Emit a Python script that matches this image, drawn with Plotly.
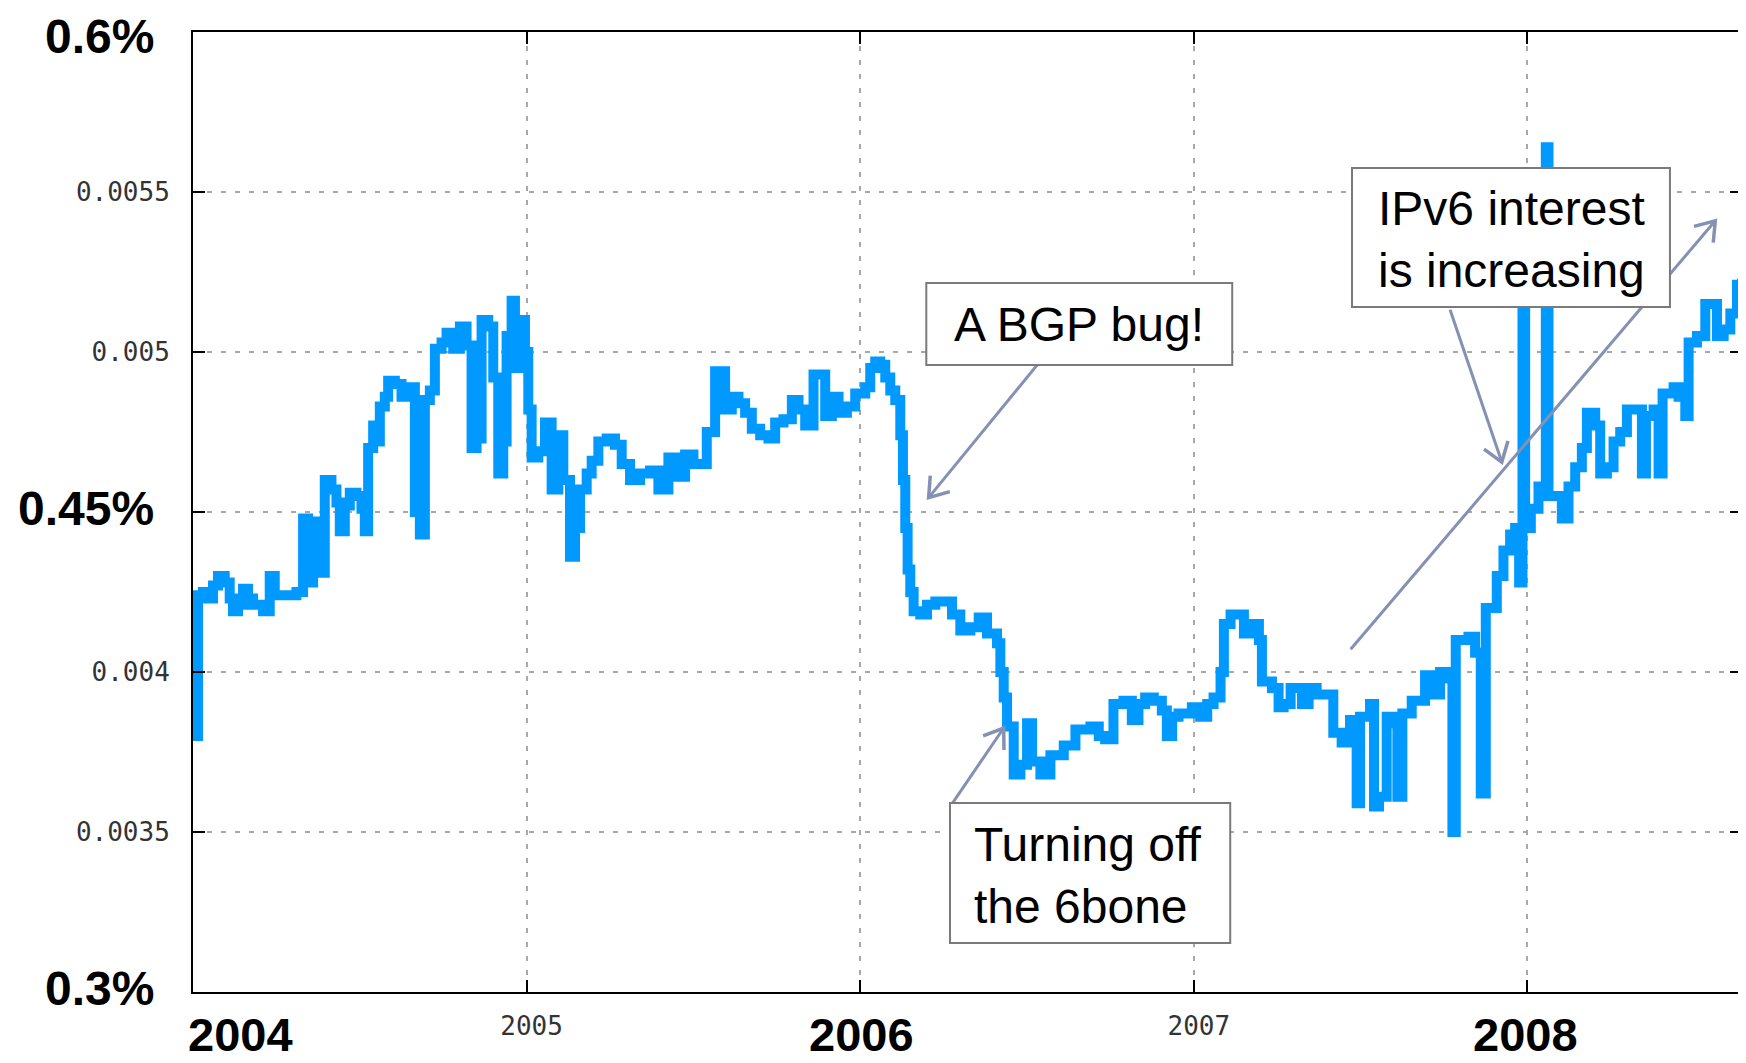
import math
import plotly.graph_objects as go

# ---------------- data ----------------
years = [
    2004.000, 2004.005, 2004.015, 2004.030, 2004.045, 2004.060, 2004.075, 2004.095, 2004.110, 2004.120,
    2004.135, 2004.150, 2004.165, 2004.180, 2004.195, 2004.210, 2004.230, 2004.245, 2004.265, 2004.290,
    2004.310, 2004.330, 2004.345, 2004.360, 2004.375, 2004.385, 2004.395, 2004.415, 2004.430, 2004.440,
    2004.455, 2004.470, 2004.490, 2004.505, 2004.515, 2004.525, 2004.540, 2004.550, 2004.560, 2004.575,
    2004.585, 2004.605, 2004.625, 2004.640, 2004.655, 2004.665, 2004.680, 2004.695, 2004.710, 2004.725,
    2004.745, 2004.760, 2004.780, 2004.800, 2004.820, 2004.835, 2004.850, 2004.865, 2004.885, 2004.900,
    2004.915, 2004.930, 2004.940, 2004.955, 2004.965, 2004.975, 2004.995, 2005.005, 2005.015, 2005.035,
    2005.055, 2005.075, 2005.095, 2005.110, 2005.130, 2005.145, 2005.160, 2005.180, 2005.195, 2005.215,
    2005.240, 2005.265, 2005.285, 2005.310, 2005.340, 2005.370, 2005.395, 2005.425, 2005.450, 2005.475,
    2005.500, 2005.520, 2005.540, 2005.565, 2005.585, 2005.595, 2005.615, 2005.635, 2005.655, 2005.675,
    2005.700, 2005.725, 2005.745, 2005.770, 2005.795, 2005.815, 2005.835, 2005.860, 2005.880, 2005.895,
    2005.915, 2005.935, 2005.960, 2005.985, 2006.015, 2006.030, 2006.045, 2006.060, 2006.075, 2006.090,
    2006.105, 2006.120, 2006.128, 2006.135, 2006.142, 2006.150, 2006.160, 2006.180, 2006.200, 2006.225,
    2006.250, 2006.275, 2006.300, 2006.330, 2006.355, 2006.380, 2006.410, 2006.420, 2006.430, 2006.440,
    2006.460, 2006.480, 2006.500, 2006.515, 2006.540, 2006.570, 2006.610, 2006.645, 2006.690, 2006.715,
    2006.734, 2006.759, 2006.789, 2006.814, 2006.834, 2006.854, 2006.880, 2006.904, 2006.919, 2006.935,
    2006.954, 2006.994, 2007.019, 2007.040, 2007.059, 2007.080, 2007.090, 2007.110, 2007.130, 2007.150,
    2007.179, 2007.195, 2007.204, 2007.234, 2007.254, 2007.269, 2007.290, 2007.324, 2007.344, 2007.368,
    2007.393, 2007.418, 2007.443, 2007.468, 2007.488, 2007.498, 2007.528, 2007.540, 2007.555, 2007.578,
    2007.598, 2007.610, 2007.625, 2007.653, 2007.678, 2007.693, 2007.713, 2007.738, 2007.758, 2007.775,
    2007.785, 2007.823, 2007.843, 2007.860, 2007.875, 2007.893, 2007.908, 2007.928, 2007.948, 2007.963,
    2007.975, 2007.985, 2007.993, 2008.010, 2008.033, 2008.055, 2008.063, 2008.083, 2008.103, 2008.123,
    2008.143, 2008.163, 2008.178, 2008.203, 2008.218, 2008.238, 2008.258, 2008.278, 2008.298, 2008.318,
    2008.343, 2008.355, 2008.378, 2008.393, 2008.405, 2008.438, 2008.453, 2008.473, 2008.483, 2008.508,
    2008.533, 2008.553, 2008.568, 2008.588, 2008.608, 2008.628, 2008.643,
]
share = [
    0.00386, 0.00380, 0.00424, 0.00425, 0.00423, 0.00427, 0.00430, 0.00428, 0.00423, 0.00419,
    0.00421, 0.00426, 0.00423, 0.00421, 0.00421, 0.00419, 0.00430, 0.00424, 0.00424, 0.00424,
    0.00425, 0.00448, 0.00428, 0.00431, 0.00447, 0.00431, 0.00460, 0.00457, 0.00453, 0.00444,
    0.00452, 0.00456, 0.00455, 0.00451, 0.00444, 0.00470, 0.00477, 0.00472, 0.00483, 0.00486,
    0.00491, 0.00490, 0.00486, 0.00489, 0.00489, 0.00450, 0.00443, 0.00485, 0.00488, 0.00501,
    0.00503, 0.00506, 0.00501, 0.00508, 0.00502, 0.00470, 0.00473, 0.00510, 0.00508, 0.00492,
    0.00462, 0.00472, 0.00505, 0.00516, 0.00495, 0.00510, 0.00500, 0.00482, 0.00467, 0.00469,
    0.00478, 0.00457, 0.00474, 0.00460, 0.00436, 0.00445, 0.00457, 0.00462, 0.00466, 0.00472,
    0.00473, 0.00471, 0.00465, 0.00460, 0.00462, 0.00463, 0.00457, 0.00467, 0.00461, 0.00468,
    0.00465, 0.00465, 0.00475, 0.00494, 0.00494, 0.00482, 0.00486, 0.00484, 0.00481, 0.00476,
    0.00474, 0.00473, 0.00478, 0.00479, 0.00485, 0.00482, 0.00477, 0.00493, 0.00493, 0.00480,
    0.00486, 0.00481, 0.00483, 0.00487, 0.00489, 0.00495, 0.00497, 0.00496, 0.00492, 0.00488,
    0.00485, 0.00474, 0.00460, 0.00445, 0.00432, 0.00425, 0.00419, 0.00418, 0.00421, 0.00422,
    0.00422, 0.00418, 0.00413, 0.00414, 0.00417, 0.00412, 0.00409, 0.00400, 0.00392, 0.00383,
    0.00368, 0.00371, 0.00384, 0.00372, 0.00368, 0.00374, 0.00377, 0.00382, 0.00383, 0.00380,
    0.00379, 0.00390, 0.00391, 0.00385, 0.00390, 0.00392, 0.00391, 0.00388, 0.00380, 0.00386,
    0.00387, 0.00389, 0.00386, 0.00390, 0.00392, 0.00400, 0.00415, 0.00418, 0.00418, 0.00412,
    0.00415, 0.00410, 0.00397, 0.00395, 0.00389, 0.00390, 0.00395, 0.00390, 0.00395, 0.00393,
    0.00393, 0.00381, 0.00378, 0.00385, 0.00359, 0.00386, 0.00390, 0.00358, 0.00361, 0.00386,
    0.00384, 0.00361, 0.00387, 0.00391, 0.00391, 0.00399, 0.00393, 0.00400, 0.00398, 0.00350,
    0.00410, 0.00411, 0.00406, 0.00362, 0.00420, 0.00420, 0.00430, 0.00438, 0.00443, 0.00445,
    0.00428, 0.00540, 0.00445, 0.00451, 0.00458, 0.00564, 0.00455, 0.00455, 0.00448, 0.00458,
    0.00464, 0.00470, 0.00481, 0.00477, 0.00462, 0.00464, 0.00472, 0.00475, 0.00482, 0.00482,
    0.00462, 0.00480, 0.00482, 0.00462, 0.00487, 0.00489, 0.00486, 0.00480, 0.00503, 0.00505,
    0.00515, 0.00515, 0.00505, 0.00507, 0.00512, 0.00521, 0.00523,
]

y_tick_vals = [0.003, 0.0035, 0.004, 0.0045, 0.005, 0.0055, 0.006]
y_tick_text = ["", "0.0035", "0.004", "", "0.005", "0.0055", ""]
x_tick_vals = [2005, 2006, 2007, 2008]
x_tick_text = ["2005", "", "2007", ""]

big_y_text = ["0.6%", "0.45%", "0.3%"]
big_y_at = [0.006, 0.0045, 0.003]
big_x_text = ["2004", "2006", "2008"]
big_x_at = [2004, 2006, 2008]

# ---------------- geometry ----------------
# the page body adds an 8px margin, so the figure is a little smaller than the window
W, H = 1738, 1055
ML, MR, MT, MB = 185, 4, 24, 71
X0, X1 = 2004.0, 2008.643
Y0, Y1 = 0.003, 0.006
PW, PH = W - ML - MR, H - MT - MB
SX, SY = PW / (X1 - X0), PH / (Y1 - Y0)


def to_px(x, y):
    return ML + (x - X0) * SX, MT + (Y1 - y) * SY


def to_data(px, py):
    return X0 + (px - ML) / SX, Y1 - (py - MT) / SY


FONT = "Liberation Sans, Arial, Helvetica, sans-serif"
MONO = "DejaVu Sans Mono, Liberation Mono, monospace"
ARROW = "#8590b3"

fig = go.Figure()
fig.add_trace(go.Scatter(
    x=years, y=share, mode="lines",
    line=dict(color="#0099ff", width=10, shape="hv"),
    hoverinfo="skip", showlegend=False,
))

grid = dict(showgrid=True, gridcolor="#a8a8a8", gridwidth=2, griddash="5px,9px")
axis_common = dict(showline=True, linecolor="black", linewidth=2, mirror="ticks",
                   ticks="inside", ticklen=12, tickwidth=2, tickcolor="black",
                   zeroline=False, automargin=False, **grid)

fig.update_xaxes(range=[X0, X1], tickmode="array", tickvals=x_tick_vals, ticktext=x_tick_text,
                 tickfont=dict(family=MONO, size=26, color="#333333"),
                 ticklabelstandoff=10, ticklabelshift=5, **axis_common)
fig.update_yaxes(range=[Y0, Y1], tickmode="array", tickvals=y_tick_vals, ticktext=y_tick_text,
                 tickfont=dict(family=MONO, size=26, color="#333333"),
                 ticklabelstandoff=16, **axis_common)

shapes = []
annotations = []

# arrows: (tail_year, tail_value, head_year, head_value)
arrows = [
    (2006.530, 0.004959, 2006.205, 0.004545),
    (2006.275, 0.003588, 2006.430, 0.003825),
    (2007.768, 0.005132, 2007.923, 0.004656),
    (2007.470, 0.004071, 2008.563, 0.005410),
]
for tx, ty, hx, hy in arrows:
    shapes.append(dict(type="line", xref="x", yref="y", x0=tx, y0=ty, x1=hx, y1=hy,
                       line=dict(color=ARROW, width=3), layer="above"))
    tpx, tpy = to_px(tx, ty)
    hpx, hpy = to_px(hx, hy)
    dx, dy = tpx - hpx, tpy - hpy
    n = math.hypot(dx, dy)
    ux, uy = dx / n, dy / n
    pts = []
    for ang in (math.radians(35), -math.radians(35)):
        rx = ux * math.cos(ang) - uy * math.sin(ang)
        ry = ux * math.sin(ang) + uy * math.cos(ang)
        pts.append(to_data(hpx + 22 * rx, hpy + 22 * ry))
    path = "M {},{} L {},{} L {},{}".format(pts[0][0], pts[0][1], hx, hy, pts[1][0], pts[1][1])
    shapes.append(dict(type="path", xref="x", yref="y", path=path,
                       line=dict(color=ARROW, width=3.5), layer="above"))

# callout boxes (year range, value range)
boxes = [
    (2006.198, 2007.115, 0.004959, 0.005216),
    (2006.269, 2007.109, 0.003153, 0.003591),
    (2007.474, 2008.427, 0.005141, 0.005575),
]
for bx0, bx1, by0, by1 in boxes:
    shapes.append(dict(type="rect", xref="x", yref="y", x0=bx0, x1=bx1, y0=by0, y1=by1,
                       fillcolor="white", line=dict(color="#7a7a7a", width=2), layer="above"))

annotations.append(dict(x=2006.656, y=0.005087, xref="x", yref="y", text="A BGP bug!",
                        showarrow=False, xanchor="center", yanchor="middle",
                        font=dict(family=FONT, size=48, color="black")))
annotations.append(dict(x=2006.335, y=0.003365, xref="x", yref="y", text="Turning off<br>the 6bone",
                        showarrow=False, xanchor="left", yanchor="middle", align="left",
                        font=dict(family=FONT, size=48, color="black")))
annotations.append(dict(x=2007.951, y=0.005352, xref="x", yref="y", text="IPv6 interest<br>is increasing",
                        showarrow=False, xanchor="center", yanchor="middle", align="center",
                        font=dict(family=FONT, size=48, color="black")))

# big bold axis labels
paper_top = 1 + MT / PH            # top edge of the figure in paper units
paper_bottom = -(MB) / PH          # bottom edge of the figure in paper units
for t, v in zip(big_y_text, big_y_at):
    if v == Y1:
        pos = dict(y=paper_top, yref="paper", yanchor="top")
    elif v == Y0:
        pos = dict(y=v + 0.00001, yref="y", yanchor="middle")
    else:
        pos = dict(y=v + 0.000012, yref="y", yanchor="middle")
    annotations.append(dict(x=-0.0238, xref="paper", text="<b>" + t + "</b>",
                            showarrow=False, xanchor="right",
                            font=dict(family=FONT, size=48, color="black"), **pos))
big_x_shift = [0.143, 0.005, -0.005]
for t, v, s in zip(big_x_text, big_x_at, big_x_shift):
    annotations.append(dict(x=v + s, xref="x", y=paper_bottom, yref="paper", text="<b>" + t + "</b>",
                            showarrow=False, xanchor="center", yanchor="bottom",
                            font=dict(family=FONT, size=47, color="black")))

fig.update_layout(
    width=W, height=H,
    margin=dict(l=ML, r=MR, t=MT, b=MB, pad=0, autoexpand=False),
    paper_bgcolor="white", plot_bgcolor="white",
    shapes=shapes, annotations=annotations,
    showlegend=False,
)

fig.write_html("out.html")
